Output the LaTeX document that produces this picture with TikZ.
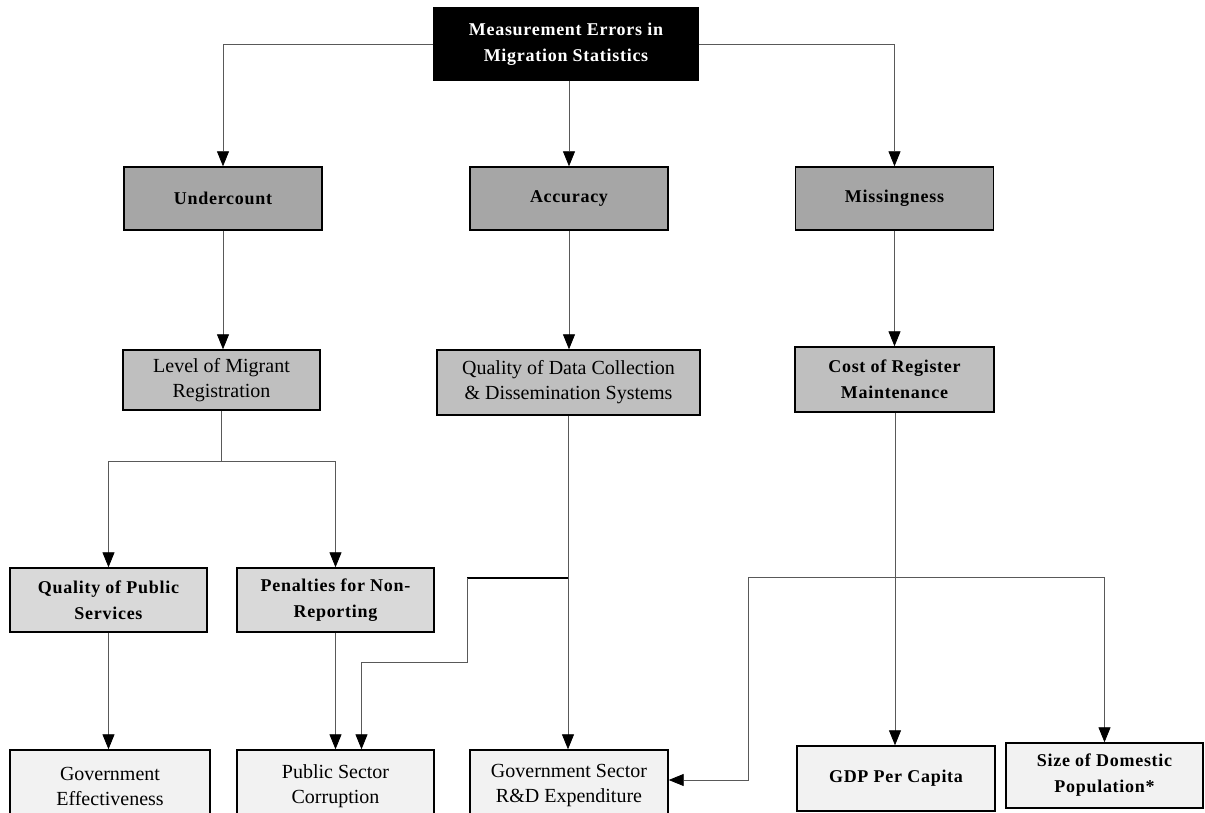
\documentclass[tikz,border=0pt]{standalone}
\usepackage{fontspec}
\setmainfont{Liberation Serif}
\newfontfamily\boldwide[LetterSpace=4]{Liberation Serif}
\usetikzlibrary{arrows.meta}
\definecolor{lvA}{HTML}{A6A6A6}
\definecolor{lvB}{HTML}{BFBFBF}
\definecolor{lvC}{HTML}{D9D9D9}
\definecolor{lvD}{HTML}{F2F2F2}
\definecolor{conc}{HTML}{595959}
\begin{document}
\begin{tikzpicture}[x=1pt,y=-1pt,
  box/.style={draw=black, line width=1.4pt, align=center, inner sep=2pt,
    font=\boldwide\fontsize{18}{26}\selectfont\bfseries},
  thin/.style={font=\fontsize{20}{25}\selectfont},
  con/.style={draw=conc, line width=0.8pt},
  arr/.style={con, -{Triangle[width=12pt,length=15pt,color=black]}}]
\useasboundingbox (0,0) rectangle (1205,813);
% top
\node[box, fill=black, text=white, minimum width=264pt, minimum height=72pt] (m) at (566,44) {Measurement Errors in\\Migration Statistics};
% level 1
\node[box, fill=lvA, minimum width=198pt, minimum height=63pt] (u) at (223,198.5) {Undercount};
\node[box, fill=lvA, minimum width=198pt, minimum height=63pt] (a) at (569,198.5) {Accuracy};
\node[box, fill=lvA, minimum width=198pt, minimum height=63pt] (ms) at (894.5,198.5) {Missingness};
% level 2
\node[box, thin, fill=lvB, minimum width=197pt, minimum height=60pt] (lm) at (221.5,380) {Level of Migrant\\Registration};
\node[box, thin, fill=lvB, minimum width=263pt, minimum height=65pt] (qd) at (568.5,382.5) {Quality of Data Collection\\\& Dissemination Systems};
\node[box, fill=lvB, minimum width=199pt, minimum height=65pt] (cr) at (894.5,379.5) {Cost of Register\\Maintenance};
% level 3
\node[box, fill=lvC, minimum width=197pt, minimum height=64pt] (qps) at (108.5,600) {Quality of Public\\Services};
\node[box, fill=lvC, minimum width=197pt, minimum height=64pt] (pen) at (335.5,600) {Penalties for Non-\\Reporting};
% bottom
\node[box, thin, fill=lvD, minimum width=200pt, minimum height=72pt] (ge) at (110,786) {Government\\Effectiveness};
\node[box, thin, fill=lvD, minimum width=197pt, minimum height=72pt] (psc) at (335.5,786) {Public Sector\\Corruption};
\node[box, thin, fill=lvD, minimum width=198pt, minimum height=72pt] (rd) at (569,786) {Government Sector\\R\&D Expenditure};
\node[box, fill=lvD, minimum width=198pt, minimum height=65pt] (gdp) at (896,778.5) {GDP Per Capita};
\node[box, fill=lvD, minimum width=197pt, minimum height=65pt] (sz) at (1104.5,775.5) {Size of Domestic\\Population*};
% junction coordinates
\coordinate (j1) at (222,461);
\coordinate (j2) at (568,578);
\coordinate (k1) at (467,662);
\coordinate (j3) at (895,577);
\coordinate (k2) at (748,577);
\coordinate (re) at (669,780);
% connectors
\draw[arr] (m.west) -| (u.north);
\draw[arr] (m.east) -| (ms.north);
\draw[arr] (m.south -| a.north) -- (a.north);
\draw[arr] (u.south) -- (lm.north -| u.south);
\draw[arr] (a.south) -- (qd.north -| a.south);
\draw[arr] (ms.south) -- (cr.north -| ms.south);
\draw[con, line width=1.4pt] (lm.south) -- (lm.south |- j1);
\draw[arr] (lm.south |- j1) -| (qps.north);
\draw[arr] (lm.south |- j1) -| (pen.north);
\draw[arr] (qps.south) -- (ge.north -| qps.south);
\draw[arr] (pen.south) -- (psc.north);
\draw[con] (qd.south -| j2) -- (j2);
\draw[arr] (j2) -- (rd.north -| j2);
\draw[con, draw=black, line width=1.4pt] (j2) -- (j2 -| k1);
\draw[arr] (j2 -| k1) -- (k1) -| ([xshift=26pt]psc.north);
\draw[con] (cr.south -| j3) -- (j3);
\draw[arr] (j3) -- (gdp.north -| j3);
\draw[arr] (j3) -| (sz.north);
\draw[arr] (j3) -- (k2) |- (rd.east |- re);
\end{tikzpicture}
\end{document}
